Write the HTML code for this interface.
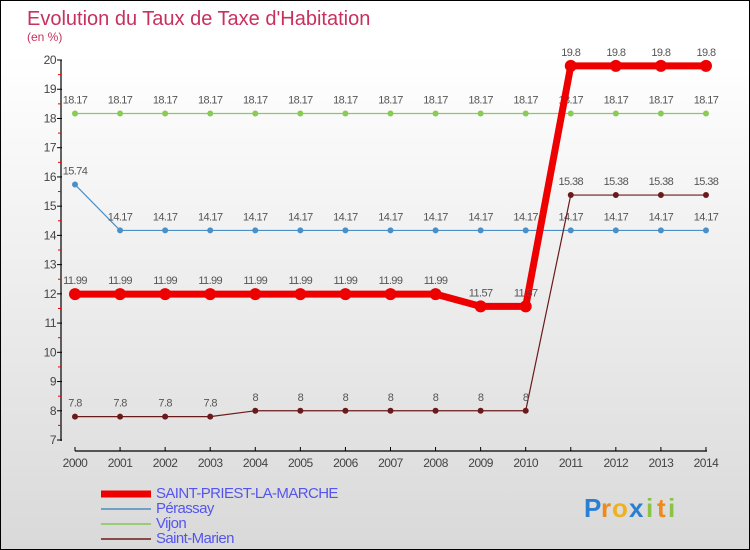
<!DOCTYPE html>
<html><head><meta charset="utf-8"><style>
body{margin:0;}
#c{width:748px;height:548px;border:1px solid #000;background:linear-gradient(#fff,#fff 10%,#d9d9d9);position:relative;overflow:hidden;font-family:"Liberation Sans",sans-serif;}
</style></head><body>
<div id="c">
<svg id="s" width="748" height="548"></svg>
</div>
<script>
const years=["2000","2001","2002","2003","2004","2005","2006","2007","2008","2009","2010","2011","2012","2013","2014"];
const stPriest=[11.99,11.99,11.99,11.99,11.99,11.99,11.99,11.99,11.99,11.57,11.57,19.8,19.8,19.8,19.8];
const perassay=[15.74,14.17,14.17,14.17,14.17,14.17,14.17,14.17,14.17,14.17,14.17,14.17,14.17,14.17,14.17];
const vijon=[18.17,18.17,18.17,18.17,18.17,18.17,18.17,18.17,18.17,18.17,18.17,18.17,18.17,18.17,18.17];
const stMarien=[7.8,7.8,7.8,7.8,8,8,8,8,8,8,8,15.38,15.38,15.38,15.38];
const yTicks=[7,8,9,10,11,12,13,14,15,16,17,18,19,20];
const s=document.getElementById('s');const NS='http://www.w3.org/2000/svg';
function X(i){return 74+i*45.07;}
function Y(v){return 439-(v-7)*29.23;}
function el(t,a,p){const e=document.createElementNS(NS,t);for(const k in a)e.setAttribute(k,a[k]);(p||s).appendChild(e);return e;}
let t=el('text',{x:26,y:24,'font-size':20,fill:'#c8305e'});t.textContent="Evolution du Taux de Taxe d'Habitation";

t=el('text',{x:26,y:40,'font-size':12,fill:'#c8305e'});t.textContent="(en %)";

let a=el('line',{x1:60,y1:59,x2:60,y2:440,stroke:'#000','stroke-width':1.2});

a=el('line',{x1:74,y1:450,x2:706,y2:450,stroke:'#000','stroke-width':1.2});

yTicks.forEach(v=>{el('line',{x1:56,x2:61,y1:Y(v),y2:Y(v),stroke:'#000'});
 if(v<20)el('line',{x1:57,x2:60,y1:Y(v+0.5),y2:Y(v+0.5),stroke:'#e00'});
 const tt=el('text',{x:55,y:Y(v)+4,'font-size':12,fill:'#444','text-anchor':'end','letter-spacing':'-0.5'});tt.textContent=v;
 });
years.forEach((y,i)=>{el('line',{x1:X(i),x2:X(i),y1:446,y2:450,stroke:'#000'});
 const tt=el('text',{x:X(i),y:466,'font-size':12,fill:'#444','text-anchor':'middle','letter-spacing':'-0.5'});tt.textContent=y;
 });
function series(d,color,w,r,name){const g=el('g',{});
 el('polyline',{points:d.map((v,i)=>X(i)+','+Y(v)).join(' '),fill:'none',stroke:color,'stroke-width':w,'stroke-linejoin':'round'},g);
 d.forEach((v,i)=>{const c=el('circle',{cx:X(i),cy:Y(v),r:r,fill:color},g);
  const tt=el('text',{x:X(i),y:Y(v)-10,'font-size':11,fill:'#555','text-anchor':'middle','letter-spacing':'-0.6'},g);tt.textContent=v;});}
series(vijon,'#88cc55',1.2,3,'series-vijon');
series(perassay,'#4a90c8',1.2,3,'series-perassay');
series(stMarien,'#6a1a1a',1.2,3,'series-saint-marien');
series(stPriest,'#ee0000',7,6,'series-saint-priest');
const leg=[["SAINT-PRIEST-LA-MARCHE","#ee0000",7],["Pérassay","#6fa0c8",2],["Vijon","#99cc77",2],["Saint-Marien","#8a4a4a",2]];
leg.forEach((l,i)=>{const g=el('g',{});
 const y=493+i*15;el('line',{x1:100,x2:150,y1:y,y2:y,stroke:l[1],'stroke-width':l[2]},g);
 const tt=el('text',{x:155,y:y+4,'font-size':15,fill:'#5555ee','letter-spacing':'-0.6'},g);tt.textContent=l[0];});
const logo=[["P","#2a7fd0"],["r","#ee8a1a"],["o","#f0b020"],["x","#2a7fd0"],["i","#8bc34a"],["t","#ee8a1a"],["i","#8bc34a"]];
let lx=583;const lg=el('g',{});
logo.forEach(([c,col])=>{const tt=el('text',{x:lx,y:516,'font-size':26,'font-weight':'bold',fill:col},lg);tt.textContent=c;lx+=(c=='i'||c=='t'||c=='r')?11:17;});
</script>
</body></html>
